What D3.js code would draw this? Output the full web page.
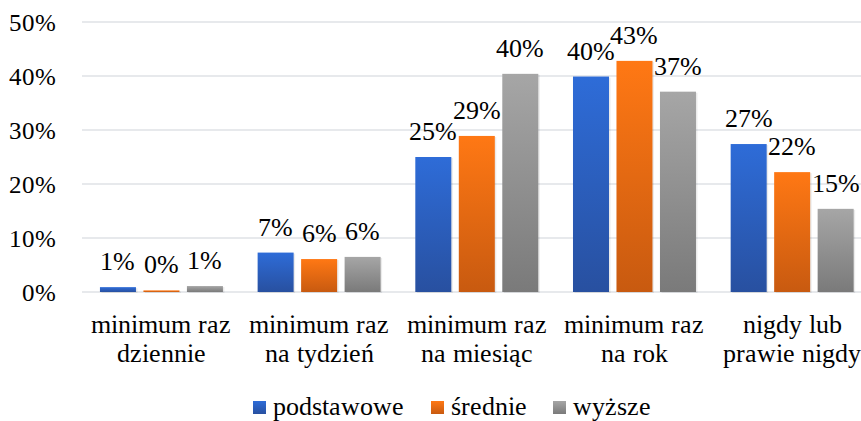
<!DOCTYPE html>
<html><head><meta charset="utf-8">
<script src="https://cdn.jsdelivr.net/npm/d3@7"></script>
<style>
@font-face{font-family:"ChartSerif";src:local("Liberation Serif"),local("LiberationSerif"),local("Liberation Serif Regular"),local("LiberationSerif-Regular");}
</style>
</head><body style="margin:0;background:#fff">
<svg id="c" width="861" height="421"></svg>
<script>
const categories = [["minimum raz","dziennie"],["minimum raz","na tydzień"],["minimum raz","na miesiąc"],["minimum raz","na rok"],["nigdy lub","prawie nigdy"]];
const seriesNames = ["podstawowe","średnie","wyższe"];
const podstawowe = [0.9, 7.3, 25.0, 39.9, 27.4];
const srednie = [0.3, 6.1, 28.9, 42.8, 22.2];
const wyzsze = [1.1, 6.5, 40.4, 37.1, 15.4];
const labelsP = ["1%","7%","25%","40%","27%"];
const labelsS = ["0%","6%","29%","43%","22%"];
const labelsW = ["1%","6%","40%","37%","15%"];
const yTicks = [0,10,20,30,40,50];

const FONT = "ChartSerif, 'Liberation Serif', serif";
const seriesValues = [podstawowe, srednie, wyzsze];
const seriesLabels = [labelsP, labelsS, labelsW];
const colors = [["#2e6cd8","#2850a0"],["#ff7814","#c85a10"],["#a6a6a6","#7a7a7a"]];

const svg = d3.select("#c");
const x0 = d3.scaleBand().domain(d3.range(categories.length)).range([82.6, 871]).paddingInner(0.22).paddingOuter(0.11);
const x1 = d3.scaleBand().domain(d3.range(3)).range([0, x0.bandwidth()]).paddingInner(0.172);
const y = d3.scaleLinear().domain([0,50]).range([292, 22]);

const defs = svg.append("defs");
colors.forEach((c,i)=>{
  const g = defs.append("linearGradient").attr("id","g"+i).attr("x1",0).attr("y1",0).attr("x2",0).attr("y2",1);
  g.append("stop").attr("offset","0%").attr("stop-color",c[0]);
  g.append("stop").attr("offset","100%").attr("stop-color",c[1]);
});

function txt(sel, size){
  return sel.style("font-family", FONT).style("font-size", size+"px").attr("fill","#000");
}

// gridlines
svg.append("g").selectAll("line").data(yTicks).join("line")
  .attr("x1",82).attr("x2",861).attr("y1",d=>y(d)).attr("y2",d=>y(d))
  .attr("stroke","#dfe2e6").attr("stroke-width",1.5);

// y tick labels
txt(svg.append("g").selectAll("text").data(yTicks).join("text")
  .attr("x",56).attr("y",d=>y(d)+9).attr("text-anchor","end"), 25)
  .text(d=>d+"%");

// bars
seriesValues.forEach((vals,si)=>{
  const g = svg.append("g");
  // soft shadow
  g.selectAll("rect.s").data(vals).join("rect").attr("class","s")
    .attr("x",(d,i)=>x0(i)+x1(si)+1.5).attr("width",x1.bandwidth())
    .attr("y",d=>y(d)+1).attr("height",d=>y(0)-y(d))
    .attr("fill","#000").attr("opacity",0.08);
  g.selectAll("rect.b").data(vals).join("rect").attr("class","b")
    .attr("x",(d,i)=>x0(i)+x1(si)).attr("width",x1.bandwidth())
    .attr("y",d=>y(d)).attr("height",d=>y(0)-y(d))
    .attr("fill","url(#g"+si+")");
  txt(g.selectAll("text").data(vals).join("text")
    .attr("x",(d,i)=>x0(i)+x1(si)+x1.bandwidth()/2).attr("y",d=>y(d)-17)
    .attr("text-anchor","middle"), 25.5)
    .text((d,i)=>seriesLabels[si][i]);
});

// category labels
const cl = svg.append("g");
categories.forEach((c,i)=>{
  const t = txt(cl.append("text").attr("text-anchor","middle"), 26);
  c.forEach((line,li)=>{
    t.append("tspan").attr("x",x0(i)+x0.bandwidth()/2).attr("y",333+li*29).text(line);
  });
});

// legend
const legendX = [253, 431, 553];
const lg = svg.append("g");
seriesNames.forEach((n,i)=>{
  lg.append("rect").attr("x",legendX[i]).attr("y",401).attr("width",13).attr("height",13).attr("fill","url(#g"+i+")");
  txt(lg.append("text").attr("x",legendX[i]+20).attr("y",415), 26).text(n);
});
</script>
</body></html>
